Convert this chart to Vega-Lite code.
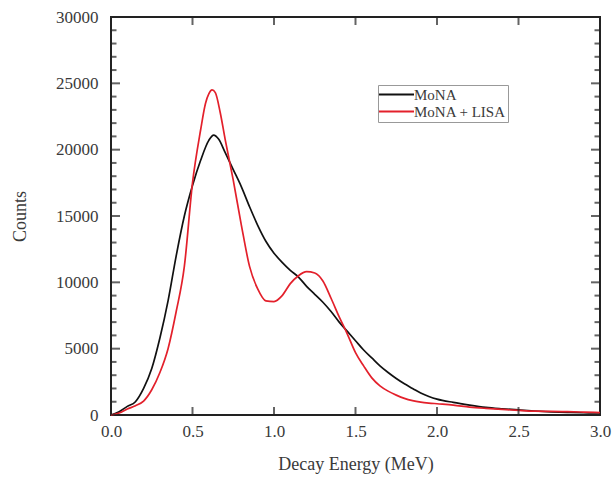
{
  "$schema": "https://vega.github.io/schema/vega-lite/v6.json",
  "width": 489,
  "height": 398,
  "autosize": "none",
  "padding": {"left": 111, "top": 17, "right": 14, "bottom": 63},
  "background": "white",
  "config": {
    "view": {"stroke": "#222", "strokeWidth": 2},
    "font": "Liberation Serif",
    "axis": {"grid": false, "domain": false, "ticks": false, "labelFont": "Liberation Serif", "titleFont": "Liberation Serif", "labelFontSize": 17, "titleFontSize": 18, "titleFontWeight": "normal", "labelColor": "#3a3a3a", "titleColor": "#3a3a3a"}
  },
  "datasets": {
    "spec": [
      {"E": 0.00, "C": 0, "series": "MoNA"},
      {"E": 0.05, "C": 250, "series": "MoNA"},
      {"E": 0.10, "C": 650, "series": "MoNA"},
      {"E": 0.15, "C": 1000, "series": "MoNA"},
      {"E": 0.20, "C": 2000, "series": "MoNA"},
      {"E": 0.25, "C": 3500, "series": "MoNA"},
      {"E": 0.30, "C": 5800, "series": "MoNA"},
      {"E": 0.35, "C": 8600, "series": "MoNA"},
      {"E": 0.40, "C": 12000, "series": "MoNA"},
      {"E": 0.45, "C": 15000, "series": "MoNA"},
      {"E": 0.50, "C": 17300, "series": "MoNA"},
      {"E": 0.55, "C": 19200, "series": "MoNA"},
      {"E": 0.60, "C": 20700, "series": "MoNA"},
      {"E": 0.63, "C": 21100, "series": "MoNA"},
      {"E": 0.66, "C": 20800, "series": "MoNA"},
      {"E": 0.70, "C": 19800, "series": "MoNA"},
      {"E": 0.75, "C": 18500, "series": "MoNA"},
      {"E": 0.80, "C": 17200, "series": "MoNA"},
      {"E": 0.85, "C": 15700, "series": "MoNA"},
      {"E": 0.90, "C": 14300, "series": "MoNA"},
      {"E": 0.95, "C": 13100, "series": "MoNA"},
      {"E": 1.00, "C": 12200, "series": "MoNA"},
      {"E": 1.05, "C": 11500, "series": "MoNA"},
      {"E": 1.10, "C": 10900, "series": "MoNA"},
      {"E": 1.15, "C": 10400, "series": "MoNA"},
      {"E": 1.20, "C": 9700, "series": "MoNA"},
      {"E": 1.25, "C": 9100, "series": "MoNA"},
      {"E": 1.30, "C": 8500, "series": "MoNA"},
      {"E": 1.35, "C": 7800, "series": "MoNA"},
      {"E": 1.40, "C": 7000, "series": "MoNA"},
      {"E": 1.45, "C": 6300, "series": "MoNA"},
      {"E": 1.50, "C": 5600, "series": "MoNA"},
      {"E": 1.55, "C": 4900, "series": "MoNA"},
      {"E": 1.60, "C": 4300, "series": "MoNA"},
      {"E": 1.65, "C": 3700, "series": "MoNA"},
      {"E": 1.70, "C": 3200, "series": "MoNA"},
      {"E": 1.75, "C": 2750, "series": "MoNA"},
      {"E": 1.80, "C": 2350, "series": "MoNA"},
      {"E": 1.85, "C": 2000, "series": "MoNA"},
      {"E": 1.90, "C": 1650, "series": "MoNA"},
      {"E": 1.95, "C": 1400, "series": "MoNA"},
      {"E": 2.00, "C": 1200, "series": "MoNA"},
      {"E": 2.10, "C": 950, "series": "MoNA"},
      {"E": 2.20, "C": 750, "series": "MoNA"},
      {"E": 2.30, "C": 580, "series": "MoNA"},
      {"E": 2.40, "C": 470, "series": "MoNA"},
      {"E": 2.50, "C": 380, "series": "MoNA"},
      {"E": 2.60, "C": 300, "series": "MoNA"},
      {"E": 2.70, "C": 240, "series": "MoNA"},
      {"E": 2.80, "C": 200, "series": "MoNA"},
      {"E": 2.90, "C": 170, "series": "MoNA"},
      {"E": 3.00, "C": 150, "series": "MoNA"},
      {"E": 0.00, "C": 0, "series": "MoNA + LISA"},
      {"E": 0.05, "C": 150, "series": "MoNA + LISA"},
      {"E": 0.10, "C": 450, "series": "MoNA + LISA"},
      {"E": 0.15, "C": 700, "series": "MoNA + LISA"},
      {"E": 0.20, "C": 1050, "series": "MoNA + LISA"},
      {"E": 0.25, "C": 1900, "series": "MoNA + LISA"},
      {"E": 0.30, "C": 3200, "series": "MoNA + LISA"},
      {"E": 0.35, "C": 5000, "series": "MoNA + LISA"},
      {"E": 0.40, "C": 7800, "series": "MoNA + LISA"},
      {"E": 0.45, "C": 11200, "series": "MoNA + LISA"},
      {"E": 0.50, "C": 17500, "series": "MoNA + LISA"},
      {"E": 0.55, "C": 21500, "series": "MoNA + LISA"},
      {"E": 0.58, "C": 23500, "series": "MoNA + LISA"},
      {"E": 0.60, "C": 24200, "series": "MoNA + LISA"},
      {"E": 0.62, "C": 24500, "series": "MoNA + LISA"},
      {"E": 0.64, "C": 24300, "series": "MoNA + LISA"},
      {"E": 0.67, "C": 22800, "series": "MoNA + LISA"},
      {"E": 0.70, "C": 20800, "series": "MoNA + LISA"},
      {"E": 0.75, "C": 17700, "series": "MoNA + LISA"},
      {"E": 0.80, "C": 14300, "series": "MoNA + LISA"},
      {"E": 0.85, "C": 11200, "series": "MoNA + LISA"},
      {"E": 0.90, "C": 9500, "series": "MoNA + LISA"},
      {"E": 0.95, "C": 8600, "series": "MoNA + LISA"},
      {"E": 1.00, "C": 8550, "series": "MoNA + LISA"},
      {"E": 1.05, "C": 9000, "series": "MoNA + LISA"},
      {"E": 1.10, "C": 9900, "series": "MoNA + LISA"},
      {"E": 1.15, "C": 10500, "series": "MoNA + LISA"},
      {"E": 1.20, "C": 10800, "series": "MoNA + LISA"},
      {"E": 1.25, "C": 10700, "series": "MoNA + LISA"},
      {"E": 1.30, "C": 10100, "series": "MoNA + LISA"},
      {"E": 1.35, "C": 8800, "series": "MoNA + LISA"},
      {"E": 1.40, "C": 7400, "series": "MoNA + LISA"},
      {"E": 1.45, "C": 6100, "series": "MoNA + LISA"},
      {"E": 1.50, "C": 4700, "series": "MoNA + LISA"},
      {"E": 1.55, "C": 3700, "series": "MoNA + LISA"},
      {"E": 1.60, "C": 2800, "series": "MoNA + LISA"},
      {"E": 1.65, "C": 2200, "series": "MoNA + LISA"},
      {"E": 1.70, "C": 1800, "series": "MoNA + LISA"},
      {"E": 1.75, "C": 1500, "series": "MoNA + LISA"},
      {"E": 1.80, "C": 1250, "series": "MoNA + LISA"},
      {"E": 1.85, "C": 1080, "series": "MoNA + LISA"},
      {"E": 1.90, "C": 970, "series": "MoNA + LISA"},
      {"E": 1.95, "C": 900, "series": "MoNA + LISA"},
      {"E": 2.00, "C": 850, "series": "MoNA + LISA"},
      {"E": 2.10, "C": 750, "series": "MoNA + LISA"},
      {"E": 2.20, "C": 600, "series": "MoNA + LISA"},
      {"E": 2.30, "C": 500, "series": "MoNA + LISA"},
      {"E": 2.40, "C": 420, "series": "MoNA + LISA"},
      {"E": 2.50, "C": 350, "series": "MoNA + LISA"},
      {"E": 2.60, "C": 290, "series": "MoNA + LISA"},
      {"E": 2.70, "C": 270, "series": "MoNA + LISA"},
      {"E": 2.80, "C": 250, "series": "MoNA + LISA"},
      {"E": 2.90, "C": 220, "series": "MoNA + LISA"},
      {"E": 3.00, "C": 180, "series": "MoNA + LISA"}
    ],
    "yticks": [
      {"v": 0, "kind": "major"}, {"v": 1000, "kind": "minor"}, {"v": 2000, "kind": "minor"}, {"v": 3000, "kind": "minor"}, {"v": 4000, "kind": "minor"},
      {"v": 5000, "kind": "major"}, {"v": 6000, "kind": "minor"}, {"v": 7000, "kind": "minor"}, {"v": 8000, "kind": "minor"}, {"v": 9000, "kind": "minor"},
      {"v": 10000, "kind": "major"}, {"v": 11000, "kind": "minor"}, {"v": 12000, "kind": "minor"}, {"v": 13000, "kind": "minor"}, {"v": 14000, "kind": "minor"},
      {"v": 15000, "kind": "major"}, {"v": 16000, "kind": "minor"}, {"v": 17000, "kind": "minor"}, {"v": 18000, "kind": "minor"}, {"v": 19000, "kind": "minor"},
      {"v": 20000, "kind": "major"}, {"v": 21000, "kind": "minor"}, {"v": 22000, "kind": "minor"}, {"v": 23000, "kind": "minor"}, {"v": 24000, "kind": "minor"},
      {"v": 25000, "kind": "major"}, {"v": 26000, "kind": "minor"}, {"v": 27000, "kind": "minor"}, {"v": 28000, "kind": "minor"}, {"v": 29000, "kind": "minor"},
      {"v": 30000, "kind": "major"}
    ],
    "xticks": [
      {"v": 0.5}, {"v": 1.0}, {"v": 1.5}, {"v": 2.0}, {"v": 2.5}
    ]
  },
  "layer": [
    {
      "data": {"name": "spec"},
      "mark": {"type": "line", "strokeWidth": 1.7, "interpolate": "monotone"},
      "encoding": {
        "x": {"field": "E", "type": "quantitative", "scale": {"domain": [0, 3], "nice": false},
              "axis": {"orient": "bottom", "title": "Decay Energy (MeV)", "values": [0, 0.5, 1, 1.5, 2, 2.5, 3], "format": ".1f", "labelPadding": 8, "titlePadding": 16, "labelFlush": false}},
        "y": {"field": "C", "type": "quantitative", "scale": {"domain": [0, 30000], "nice": false},
              "axis": {"orient": "left", "title": "Counts", "values": [0, 5000, 10000, 15000, 20000, 25000, 30000], "format": "d", "labelPadding": 13, "titlePadding": 26, "labelFlush": false}},
        "color": {"field": "series", "type": "nominal",
                  "scale": {"domain": ["MoNA", "MoNA + LISA"], "range": ["#111111", "#e3202b"]},
                  "legend": {"title": null, "orient": "none", "legendX": 267, "legendY": 68, "symbolType": "M-3.5,0H3.5", "symbolSize": 100, "symbolStrokeWidth": 2, "symbolOffset": 9, "labelOffset": 10, "labelFont": "Liberation Serif", "labelFontSize": 15, "labelColor": "#3a3a3a", "strokeColor": "#999", "padding": 2, "rowPadding": 1, "fillColor": "white"}}
      }
    },
    {
      "data": {"name": "yticks"},
      "mark": {"type": "tick", "orient": "horizontal", "clip": true, "thickness": 2, "color": "#222222"},
      "encoding": {
        "x": {"datum": 0, "type": "quantitative"},
        "y": {"field": "v", "type": "quantitative"},
        "size": {"field": "kind", "type": "nominal", "scale": {"domain": ["major", "minor"], "range": [18, 11]}, "legend": null}
      }
    },
    {
      "data": {"name": "yticks"},
      "mark": {"type": "tick", "orient": "horizontal", "clip": true, "thickness": 2, "color": "#222222"},
      "encoding": {
        "x": {"datum": 3, "type": "quantitative"},
        "y": {"field": "v", "type": "quantitative"},
        "size": {"field": "kind", "type": "nominal", "scale": {"domain": ["major", "minor"], "range": [18, 11]}, "legend": null}
      }
    },
    {
      "data": {"name": "xticks"},
      "mark": {"type": "tick", "orient": "vertical", "clip": true, "thickness": 2, "size": 16, "color": "#222222"},
      "encoding": {
        "x": {"field": "v", "type": "quantitative"},
        "y": {"datum": 0, "type": "quantitative"}
      }
    },
    {
      "data": {"name": "xticks"},
      "mark": {"type": "tick", "orient": "vertical", "clip": true, "thickness": 2, "size": 16, "color": "#222222"},
      "encoding": {
        "x": {"field": "v", "type": "quantitative"},
        "y": {"datum": 30000, "type": "quantitative"}
      }
    }
  ]
}
